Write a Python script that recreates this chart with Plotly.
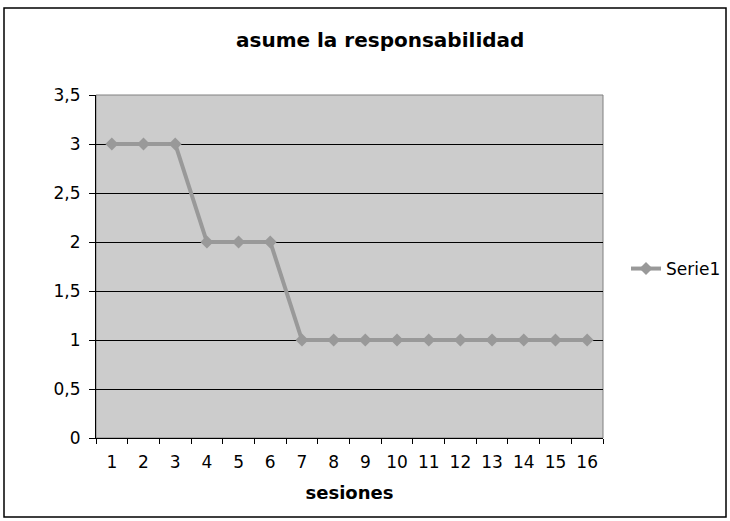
import plotly.graph_objects as go

sessions = [str(i) for i in range(1, 17)]
values = [3, 3, 3, 2, 2, 2, 1, 1, 1, 1, 1, 1, 1, 1, 1, 1]
y_ticks = [0, 0.5, 1, 1.5, 2, 2.5, 3, 3.5]
y_labels = ["0", "0,5", "1", "1,5", "2", "2,5", "3", "3,5"]

W, H = 730, 521
L, R, T, B = 96, 603, 95, 438
pw, ph = R - L, B - T

def px(x):
    return (x - L) / pw

def py(y):
    return (B - y) / ph

fig = go.Figure()
fig.add_trace(go.Scatter(
    x=sessions, y=values, mode="lines+markers", name="Serie1",
    line=dict(color="#999999", width=4),
    marker=dict(symbol="diamond", size=10, color="#999999"),
))

fig.update_layout(
    width=W, height=H,
    margin=dict(l=L, r=W - R, t=T, b=H - B, pad=0, autoexpand=False),
    paper_bgcolor="white", plot_bgcolor="#cccccc",
    font=dict(family="DejaVu Sans", size=17, color="black"),
    showlegend=True,
    legend=dict(x=px(626), y=py(269), xanchor="left", yanchor="middle",
                font=dict(size=17), bgcolor="rgba(0,0,0,0)", itemwidth=30),
    xaxis=dict(type="category", tickson="boundaries", ticks="outside", ticklen=5,
               tickcolor="black", showline=True, linecolor="black", linewidth=1,
               showgrid=False, tickfont=dict(size=17), range=[-0.5, 15.5],
               ticklabelstandoff=9, automargin=False,
               title=dict(text="<b>sesiones</b>", font=dict(size=18), standoff=14)),
    yaxis=dict(range=[0, 3.5], tickvals=y_ticks, ticktext=y_labels, ticks="outside",
               ticklen=6, tickcolor="black", showline=True, linecolor="black",
               linewidth=1, showgrid=True, gridcolor="black", gridwidth=1,
               zeroline=False, tickfont=dict(size=17), ticklabelstandoff=5,
               automargin=False),
    annotations=[dict(text="<b>asume la responsabilidad</b>", xref="paper", yref="paper",
                      x=px(380), y=py(40), showarrow=False, xanchor="center",
                      yanchor="middle", font=dict(size=20))],
    shapes=[
        dict(type="rect", xref="paper", yref="paper", x0=0, x1=1, y0=0, y1=1,
             line=dict(color="#808080", width=1), layer="below"),
        dict(type="rect", xref="paper", yref="paper", x0=px(4), x1=px(726),
             y0=py(517), y1=py(8), line=dict(color="black", width=1.5)),
    ],
)

fig.write_html("out.html", post_script="document.body.style.margin='0';",
               config={"displayModeBar": False})
